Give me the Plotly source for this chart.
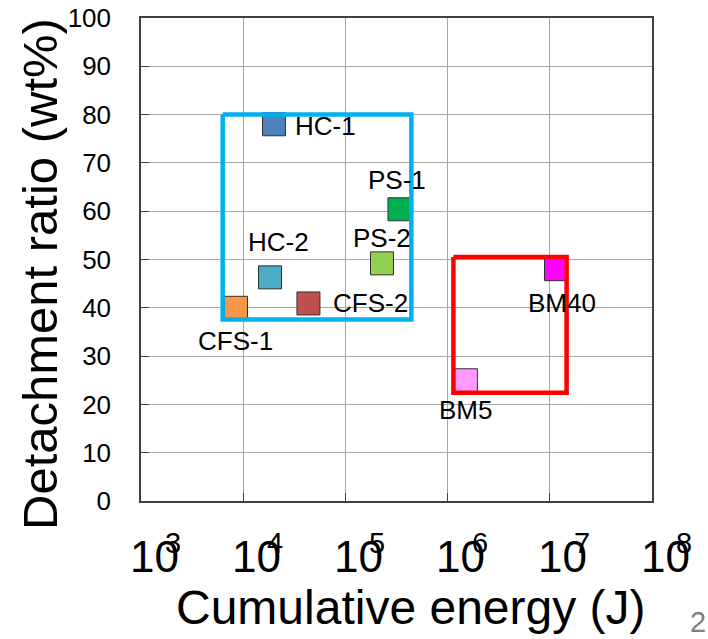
import numpy as np
import plotly.graph_objects as go

# Sample data: cumulative energy input vs. detachment ratio
labels = ["HC-1", "HC-2", "CFS-1", "CFS-2", "PS-1", "PS-2", "BM5", "BM40"]
energy_j = [2.0e4, 1.83e4, 8.5e3, 4.35e4, 3.38e5, 2.28e5, 1.51e6, 1.15e7]
detach_pct = [78.0, 46.3, 40.0, 40.9, 60.4, 49.2, 25.0, 48.0]
colors = ["#4F81BD", "#4BACC6", "#F79646", "#C0504D",
          "#00B050", "#92D050", "#FF99FF", "#FF00FF"]

# label offsets in pixels (dx, dy; dy positive = up)
label_dx = [52, 8, 0, 62, -2, 0, 0, 6]
label_dy = [-2, 35, -33, 0, 29, 25, -30, -34]

# grouping boxes (energy range, ratio range)
box_blue_x = [6.3e3, 4.42e5]
box_blue_y = [37.6, 80.0]
box_red_x = [1.14e6, 1.46e7]
box_red_y = [22.4, 50.5]

# decade tick positions
decades = [3, 4, 5, 6, 7, 8]

FONT = "Liberation Sans, Arial, sans-serif"

fig = go.Figure()

fig.add_trace(go.Scatter(
    x=energy_j, y=detach_pct, mode="markers",
    marker=dict(symbol="square", size=23, color=colors,
                line=dict(color="#303030", width=1)),
    showlegend=False, hoverinfo="skip",
))


def box_trace(xr, yr, color):
    return go.Scatter(
        x=[xr[0], xr[1], xr[1], xr[0], xr[0]],
        y=[yr[1], yr[1], yr[0], yr[0], yr[1]],
        mode="lines", line=dict(color=color, width=4.5),
        showlegend=False, hoverinfo="skip",
    )


fig.add_trace(box_trace(box_blue_x, box_blue_y, "#00B0F0"))
fig.add_trace(box_trace(box_red_x, box_red_y, "#FF0000"))

annotations = []
for name, xv, yv, dx, dy in zip(labels, energy_j, detach_pct, label_dx, label_dy):
    annotations.append(dict(
        x=np.log10(xv), y=yv, xref="x", yref="y", text=name,
        showarrow=False, xanchor="center", yanchor="middle",
        xshift=dx, yshift=dy, font=dict(family=FONT, size=26, color="black"),
    ))

# decade labels: "10" with an overlapping exponent
for d in decades:
    annotations.append(dict(
        x=d, y=0, xref="x", yref="paper", text="10", showarrow=False,
        xanchor="center", yanchor="middle", xshift=13, yshift=-55,
        font=dict(family=FONT, size=44, color="black"),
    ))
    annotations.append(dict(
        x=d, y=0, xref="x", yref="paper", text=str(d), showarrow=False,
        xanchor="center", yanchor="middle", xshift=32, yshift=-42,
        font=dict(family=FONT, size=29, color="black"),
    ))

# axis titles and page number, placed in pixels
L, R, T, B = 141, 56, 18, 138
W, H = 708, 639
pw, ph = W - L - R, H - T - B


def px_to_paper(x, y):
    return (x - L) / pw, (H - B - y) / ph


for text, (px, py), size, color, angle in [
    ("Cumulative energy (J)", (411, 607), 48, "black", 0),
    ("Detachment ratio (wt%)", (40, 274), 49, "black", -90),
    ("2", (698, 622), 29, "#808080", 0),
]:
    xp, yp = px_to_paper(px, py)
    annotations.append(dict(
        x=xp, y=yp, xref="paper", yref="paper", text=text,
        showarrow=False, xanchor="center", yanchor="middle", textangle=angle,
        font=dict(family=FONT, size=size, color=color),
    ))

fig.update_layout(
    width=W, height=H,
    margin=dict(l=L, r=R, t=T, b=B, pad=0, autoexpand=False),
    paper_bgcolor="white", plot_bgcolor="white",
    annotations=annotations,
    font=dict(family=FONT, color="black"),
    xaxis=dict(
        type="log", range=[3, 8], dtick=1, showticklabels=False,
        showgrid=True, gridcolor="#A6A6A6", gridwidth=1,
        showline=True, mirror=True, linecolor="#404040", linewidth=1.5,
        ticks="inside", ticklen=8, tickcolor="#404040", zeroline=False,
        automargin=False,
    ),
    yaxis=dict(
        range=[0, 100], tickvals=list(range(0, 101, 10)),
        showgrid=True, gridcolor="#A6A6A6", gridwidth=1,
        showline=True, mirror=True, linecolor="#404040", linewidth=1.5,
        ticks="inside", ticklen=8, tickcolor="#404040", zeroline=False,
        tickfont=dict(family=FONT, size=26, color="black"),
        ticklabelstandoff=23, automargin=False,
    ),
)

fig.write_html("out.html")
